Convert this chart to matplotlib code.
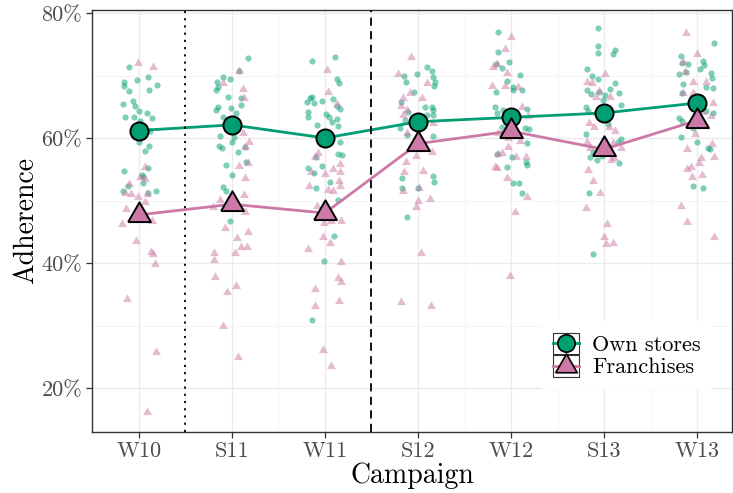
import matplotlib
matplotlib.use('Agg')
import matplotlib.pyplot as plt
from matplotlib.lines import Line2D
from matplotlib.patches import Rectangle
from matplotlib.legend_handler import HandlerBase
from matplotlib.ticker import FixedLocator, FuncFormatter

plt.rcParams['font.family'] = 'cmr10'
plt.rcParams['mathtext.fontset'] = 'cm'
plt.rcParams['axes.formatter.use_mathtext'] = True

campaigns = ['W10', 'S11', 'W11', 'S12', 'W12', 'S13', 'W13']

# means per campaign (%)
own_mean = [61.2, 62.1, 60.0, 62.6, 63.3, 64.0, 65.6]
fr_mean = [47.7, 49.4, 48.0, 59.1, 61.1, 58.2, 62.8]

# individual stores (%), one list per campaign
own_values = [
    [71.4, 69.8, 69.3, 68.9, 68.3, 67.6, 67.7, 68.5, 66.0, 65.4, 65.1, 64.4, 64.0, 63.4, 63.4,
     62.8, 63.2, 61.1, 59.4, 58.8, 58.0, 54.8, 55.2, 54.1, 52.8, 51.5, 52.4, 51.2, 51.5, 53.8],
    [72.8, 70.7, 69.7, 69.4, 68.9, 67.7, 68.1, 66.5, 66.4, 65.0, 64.5, 64.8, 65.3, 64.0, 63.4,
     60.2, 60.3, 58.8, 58.4, 59.4, 57.7, 58.6, 56.2, 55.7, 54.1, 52.2, 51.5, 46.7, 62.6, 61.8],
    [72.4, 73.0, 69.4, 68.8, 66.6, 66.4, 65.8, 65.6, 66.0, 66.2, 65.1, 64.6, 64.2, 63.3, 63.8,
     63.3, 63.1, 62.6, 62.0, 62.1, 59.4, 57.4, 57.3, 57.0, 55.2, 55.6, 54.4, 52.9, 52.0, 50.1,
     44.3, 40.3, 30.9],
    [70.0, 70.2, 71.3, 70.8, 69.8, 69.0, 68.3, 69.0, 67.3, 65.8, 64.2, 62.9, 61.6, 60.5, 64.9,
     65.0, 64.5, 63.7, 60.3, 54.0, 53.0, 53.6, 52.0, 52.0, 47.4, 63.7, 63.2, 62.1],
    [76.9, 73.8, 72.2, 71.8, 71.2, 70.1, 69.1, 67.4, 68.2, 67.7, 67.7, 65.0, 64.5, 64.7, 64.0,
     61.8, 61.6, 61.4, 59.2, 57.4, 56.9, 56.2, 55.7, 55.4, 52.8, 52.8, 51.2, 63.2],
    [77.6, 74.8, 73.6, 74.1, 73.4, 71.0, 69.9, 69.4, 68.8, 67.8, 67.7, 67.0, 67.4, 66.9, 66.1,
     65.3, 65.0, 64.4, 67.2, 62.2, 60.6, 59.9, 59.4, 57.8, 57.0, 56.5, 57.1, 56.0, 51.2, 41.4],
    [75.2, 73.1, 72.0, 71.8, 72.4, 71.7, 71.0, 70.2, 70.4, 69.6, 68.6, 68.2, 68.0, 67.2, 66.6,
     64.4, 64.0, 64.9, 63.2, 62.7, 61.6, 60.2, 59.4, 58.4, 58.2, 52.3, 52.0, 70.6],
]
own_offsets = [
    [-0.104, 0.097, -0.025, -0.158, -0.161, -0.104, 0.111, 0.197, -0.061, -0.175, -0.040, 0.003,
     0.083, -0.151, -0.057, 0.011, 0.143, 0.118, 0.0, 0.111, 0.061, -0.165, 0.100, 0.029, 0.046,
     -0.175, -0.115, 0.097, 0.183, 0.040],
    [0.169, 0.072, -0.100, -0.022, -0.165, -0.172, -0.147, -0.046, 0.097, -0.154, -0.175, -0.008,
     0.094, 0.043, -0.100, 0.022, -0.126, -0.143, -0.108, 0.003, 0.065, 0.137, 0.147, -0.068,
     0.003, -0.094, -0.065, -0.018, -0.043, 0.043],
    [-0.137, 0.108, 0.129, 0.151, -0.137, -0.161, -0.190, -0.118, -0.035, 0.089, 0.132, 0.161,
     -0.180, -0.183, 0.008, 0.046, 0.132, 0.072, 0.143, -0.089, 0.165, 0.137, 0.186, -0.097,
     -0.186, -0.035, -0.118, 0.054, -0.097, 0.143, 0.097, -0.014, -0.140],
    [-0.151, -0.014, 0.100, 0.154, 0.165, 0.183, 0.175, -0.129, -0.043, -0.183, -0.104, -0.140,
     -0.194, -0.115, 0.075, 0.147, 0.165, 0.158, 0.165, 0.165, 0.169, -0.172, -0.175, -0.003,
     -0.122, 0.094, -0.065, 0.065],
    [-0.143, -0.137, -0.025, -0.165, -0.094, 0.097, -0.040, -0.165, 0.018, 0.025, 0.122, -0.172,
     -0.083, 0.172, -0.154, -0.100, 0.151, 0.197, 0.169, -0.147, 0.014, 0.158, 0.169, -0.040,
     0.018, 0.089, 0.115, 0.011],
    [-0.068, -0.065, -0.068, 0.115, 0.100, -0.186, -0.132, -0.065, 0.118, 0.065, -0.186, -0.143,
     -0.051, 0.011, -0.008, 0.183, -0.194, -0.169, 0.161, 0.046, -0.194, 0.183, 0.154, -0.122,
     -0.151, -0.078, -0.025, 0.165, -0.161, -0.118],
    [0.183, -0.172, -0.158, -0.094, 0.061, 0.075, 0.032, -0.197, 0.151, 0.161, -0.154, 0.097,
     0.175, -0.158, 0.040, 0.097, 0.172, 0.068, -0.194, -0.158, -0.040, -0.175, -0.003, 0.115,
     0.140, -0.040, 0.061, -0.122],
]

fr_values = [
    [72.0, 71.3, 55.4, 53.8, 53.5, 52.6, 51.2, 51.0, 50.6, 51.0, 49.8, 48.7, 46.2, 46.8, 43.5,
     41.7, 41.4, 39.8, 34.2, 25.7, 16.2],
    [70.8, 68.8, 67.8, 66.4, 60.8, 59.3, 58.6, 56.0, 55.6, 53.6, 50.9, 50.1, 49.0, 48.2, 45.6,
     44.9, 44.0, 42.6, 42.6, 41.6, 40.5, 41.6, 37.8, 36.4, 35.3, 29.9, 25.0],
    [70.9, 67.4, 65.4, 57.6, 57.0, 54.6, 54.2, 55.0, 54.6, 55.8, 52.3, 53.1, 52.3, 51.7, 51.6,
     49.1, 46.4, 46.8, 46.8, 44.1, 43.2, 42.2, 40.1, 37.6, 36.9, 35.8, 33.1, 33.9, 26.1, 23.5],
    [73.0, 70.2, 68.8, 67.2, 66.4, 66.4, 65.1, 64.5, 63.7, 62.4, 60.8, 57.8, 56.1, 57.1, 54.7,
     54.5, 52.0, 51.6, 50.2, 49.9, 49.0, 41.6, 33.8, 33.2],
    [76.2, 74.2, 71.4, 71.8, 70.4, 68.4, 68.3, 68.1, 65.0, 63.5, 60.8, 60.0, 59.6, 58.6, 57.4,
     57.6, 57.0, 57.0, 55.4, 55.2, 53.6, 50.6, 48.1, 37.9],
    [70.2, 69.0, 68.8, 67.5, 66.6, 66.6, 62.4, 61.7, 61.2, 61.8, 59.4, 58.4, 59.2, 58.4, 56.8,
     56.5, 54.9, 53.2, 51.2, 48.8, 46.2, 44.1, 43.2, 43.0],
    [76.8, 73.4, 72.2, 70.6, 69.0, 69.0, 67.2, 67.2, 65.6, 63.6, 64.2, 60.6, 58.2, 59.0, 57.0,
     56.8, 56.0, 55.4, 55.0, 54.1, 53.8, 49.1, 46.5, 44.2],
]
fr_offsets = [
    [-0.011, 0.147, 0.061, 0.011, 0.068, -0.108, -0.151, -0.090, -0.014, 0.089, 0.068, -0.143,
     -0.179, 0.136, -0.029, 0.129, 0.147, 0.175, -0.126, 0.179, 0.082],
    [0.072, -0.094, 0.115, 0.126, 0.122, 0.183, 0.143, 0.172, 0.072, 0.143, 0.129, -0.129,
     -0.201, 0.143, -0.075, 0.169, 0.054, 0.100, 0.158, -0.190, -0.194, 0.035, -0.183, 0.046,
     -0.051, -0.097, 0.068],
    [0.025, 0.035, 0.129, -0.072, -0.104, -0.151, 0.003, 0.089, 0.165, 0.161, -0.175, 0.151,
     0.165, 0.035, 0.083, -0.089, -0.008, 0.065, 0.167, -0.018, 0.054, -0.183, 0.175, 0.143,
     0.169, -0.108, -0.108, 0.147, -0.018, 0.061],
    [-0.075, -0.212, 0.094, -0.086, 0.040, -0.165, -0.186, -0.122, -0.165, 0.165, -0.122, 0.147,
     -0.129, -0.022, 0.051, -0.154, 0.011, -0.158, 0.129, 0.003, -0.022, 0.029, -0.183, 0.137],
    [0.003, -0.068, -0.190, -0.147, -0.046, -0.201, -0.065, 0.078, 0.115, 0.186, -0.137, -0.029,
     0.097, -0.029, -0.143, -0.100, 0.051, 0.158, -0.172, -0.154, -0.046, 0.169, 0.043, -0.014],
    [0.011, -0.186, -0.132, -0.051, -0.086, 0.065, -0.158, -0.104, 0.118, 0.057, -0.186, 0.180,
     0.100, -0.151, 0.108, 0.072, -0.175, -0.115, -0.043, -0.197, 0.029, -0.005, 0.100, 0.016],
    [-0.118, 0.003, -0.154, -0.132, -0.040, 0.097, -0.147, -0.046, 0.175, 0.151, 0.061, -0.018,
     -0.111, 0.161, 0.183, 0.043, 0.025, -0.068, -0.111, 0.057, -0.057, -0.172, -0.108, 0.183],
]

green = '#009E73'
pink = '#CC79A7'
# equilateral triangle centred on its centroid, like R's pch 24
tri = [(-1.0, -0.577), (1.0, -0.577), (0.0, 1.155), (-1.0, -0.577)]

fig = plt.figure(figsize=(7.33, 4.93), dpi=100)
ax = fig.add_axes([92 / 733, 61 / 493, 640 / 733, 422 / 493])

pos = list(range(1, len(campaigns) + 1))

for i, p in enumerate(pos):
    ax.scatter([p + d for d in own_offsets[i]], own_values[i], s=20, marker='o',
               color=green, alpha=0.5, linewidths=0, zorder=2)
    ax.scatter([p + d for d in fr_offsets[i]], fr_values[i], s=55, marker=tri,
               color=pink, alpha=0.5, linewidths=0, zorder=2)

ax.plot(pos, own_mean, color=green, lw=2, zorder=3)
ax.plot(pos, fr_mean, color=pink, lw=2, zorder=3)
ax.scatter(pos, own_mean, s=170, marker='o', facecolor=green, edgecolor='black',
           linewidths=1.4, zorder=4)
ax.scatter(pos, fr_mean, s=360, marker=tri, facecolor=pink, edgecolor='black',
           linewidths=1.4, zorder=4)

ax.axvline(1.5, color='black', lw=1.3, linestyle=(0, (1.2, 2.8)), zorder=3)
ax.axvline(3.5, color='black', lw=1.3, linestyle=(0, (4.5, 3)), zorder=3)

ax.set_xlim(0.495, 7.376)
ax.set_ylim(12.96, 80.48)

ax.xaxis.set_major_locator(FixedLocator(pos))
ax.xaxis.set_minor_locator(FixedLocator([p + 0.5 for p in pos[:-1]]))
ax.set_xticklabels(campaigns)
ax.yaxis.set_major_locator(FixedLocator([20, 40, 60, 80]))
ax.yaxis.set_minor_locator(FixedLocator([30, 50, 70]))
ax.yaxis.set_major_formatter(FuncFormatter(lambda v, _: f'{v:.0f}%'))

ax.grid(which='major', color='#EBEBEB', lw=1.0, zorder=0)
ax.grid(which='minor', color='#F2F2F2', lw=0.6, zorder=0)
ax.set_axisbelow(True)
for s in ax.spines.values():
    s.set_color('#333333')
    s.set_linewidth(1.0)
ax.tick_params(which='major', length=4, width=0.9, color='#333333',
               labelcolor='#4D4D4D', labelsize=16, pad=3)
ax.tick_params(which='minor', length=0)

ax.set_xlabel('Campaign', fontsize=20, labelpad=1)
ax.set_ylabel('Adherence', fontsize=20, labelpad=2)


class KeyHandler(HandlerBase):
    def create_artists(self, legend, orig, xd, yd, w, h, fontsize, trans):
        x0, y0 = -xd, -yd
        rect = Rectangle((x0, y0), w, h, facecolor='white', edgecolor='#333333',
                         lw=0.8, transform=trans)
        seg = Line2D([x0, x0 + w], [y0 + h / 2] * 2, color=orig.get_color(), lw=2,
                     transform=trans)
        mk = Line2D([x0 + w / 2], [y0 + h / 2], marker=orig.get_marker(), linestyle='none',
                    markersize=orig.get_markersize(), markerfacecolor=orig.get_color(),
                    markeredgecolor='black', markeredgewidth=1.2, transform=trans)
        return [rect, seg, mk]


h_own = Line2D([], [], color=green, marker='o', markersize=12.5)
h_fr = Line2D([], [], color=pink, marker=tri, markersize=18)
leg = ax.legend([h_own, h_fr], ['Own stores', 'Franchises'],
                handler_map={Line2D: KeyHandler()}, loc='center',
                bbox_to_anchor=(627 / 733, 1 - 355 / 493), bbox_transform=fig.transFigure,
                fontsize=16, handlelength=1.17, handleheight=1.13, labelspacing=0.0,
                handletextpad=0.6, borderpad=0.5, frameon=True, fancybox=False)
leg.get_frame().set_facecolor('white')
leg.get_frame().set_edgecolor('none')
leg.get_frame().set_alpha(1)

fig.savefig('out.png', dpi=100)
